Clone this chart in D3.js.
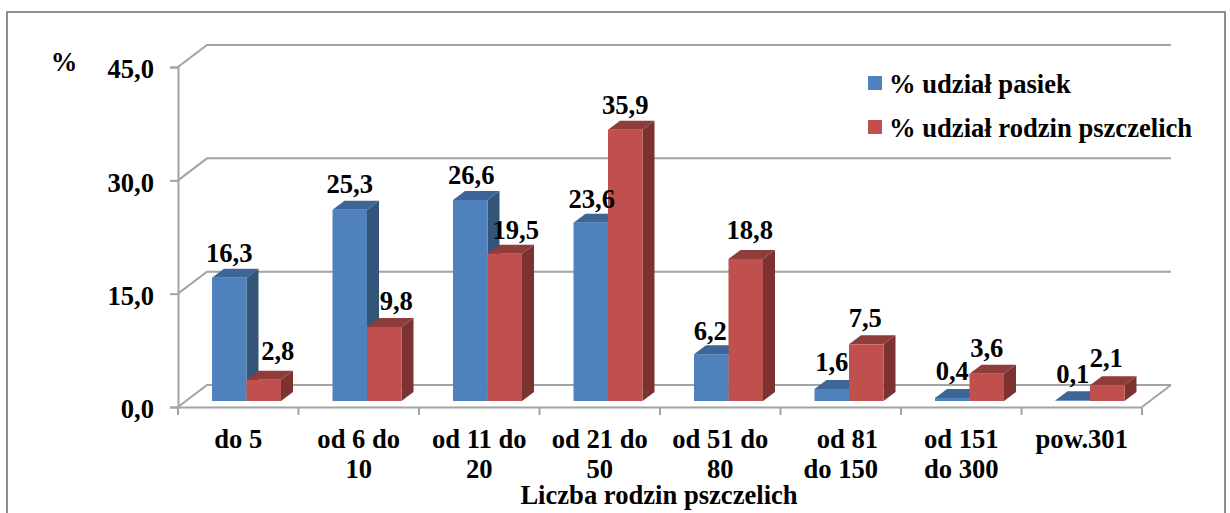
<!DOCTYPE html>
<html>
<head>
<meta charset="utf-8">
<script src="https://cdn.jsdelivr.net/npm/d3@7"></script>
<style>
  body { margin: 0; background: #fff; }
  svg { display: block; }
  text { font-family: "Liberation Serif", serif; font-weight: bold; fill: #000; }
</style>
</head>
<body>
<svg id="chart" width="1230" height="513"></svg>
<script>
const categories = [
    ["do 5"],
    ["od 6 do", "10"],
    ["od 11 do", "20"],
    ["od 21 do", "50"],
    ["od 51 do", "80"],
    ["\u00a0\u00a0od 81", "do 150"],
    ["od 151", "do 300"],
    ["pow.301"]
];
const seriesNames = ["% udział pasiek", "% udział rodzin pszczelich"];
const pasieki = [16.3, 25.3, 26.6, 23.6, 6.2, 1.6, 0.4, 0.1];
const rodziny = [2.8, 9.8, 19.5, 35.9, 18.8, 7.5, 3.6, 2.1];
const yTicks = [0, 15, 30, 45];

// hand placed data labels, same as in the original chart
const labelDx = [
    [0, 0, 1, 1, -1, 0, 0, 0],
    [14, 12, 11, 0, 4, -1, 0, -1]
];
const labelDy = [
    [16, 17, 16, 15, 14, 18, 18, 17],
    [20, 17, 15, 16, 20, 17, 17, 18]
];

const colors = [
    { front: "#4f81bd", side: "#335579", top: "#3d6696" },
    { front: "#c0504d", side: "#7c3230", top: "#8f3d3a" }
];

// 3d look of the plot
const depthX = 29, depthY = 22;
const barDepthX = 12, barDepthY = 9;
const floorLift = 6;
const gridColor = "#a3a3a3";
const fontSize = 26.6;

const svg = d3.select("#chart");
const fmt = v => v.toFixed(1).replace(".", ",");

const slot = d3.scaleBand().domain(d3.range(categories.length)).range([178, 1142]);
const inner = d3.scaleBand().domain(d3.range(seriesNames.length)).range([34, 103]);
const y = d3.scaleLinear().domain([0, 45]).range([407, 67]);

// outer frame, runs off the bottom of the picture
svg.append("rect")
    .attr("x", 7).attr("y", 12)
    .attr("width", 1218).attr("height", 520)
    .attr("fill", "#fff")
    .attr("stroke", "#8e8e8e")
    .attr("stroke-width", 2);

// grid: back wall line plus the diagonal back to the axis
const grid = svg.append("g")
    .attr("fill", "none")
    .attr("stroke", gridColor)
    .attr("stroke-width", 2);

grid.selectAll("path")
    .data(yTicks)
    .enter()
    .append("path")
    .attr("d", d => `M178,${y(d)}L${178 + depthX},${y(d) - depthY}H${1142 + depthX}`);

grid.append("path")
    .attr("d", `M1142,${y(0)}L${1142 + depthX},${y(0) - depthY}`);

// y axis
const yAxis = svg.append("g")
    .attr("transform", "translate(178,0)")
    .call(d3.axisLeft(y).tickValues(yTicks).tickFormat(fmt).tickSize(8).tickPadding(16));
yAxis.selectAll("line, path").attr("stroke", gridColor).attr("stroke-width", 2);
yAxis.selectAll("text").attr("font-size", fontSize).attr("dy", "0.41em");

// x axis, labels in the middle of a slot and ticks on the slot edges
const xAxis = svg.append("g")
    .attr("transform", `translate(0,${y(0)})`)
    .call(d3.axisBottom(slot).tickSize(0).tickFormat(""));
xAxis.select("path").attr("stroke", gridColor).attr("stroke-width", 2);
xAxis.selectAll(".tick").remove();

xAxis.selectAll("line.edge")
    .data(d3.range(categories.length + 1))
    .enter()
    .append("line")
    .attr("class", "edge")
    .attr("x1", i => slot.range()[0] + i * slot.step())
    .attr("x2", i => slot.range()[0] + i * slot.step())
    .attr("y1", 0)
    .attr("y2", 8)
    .attr("stroke", gridColor)
    .attr("stroke-width", 2);

const catLabels = svg.append("g")
    .attr("text-anchor", "middle")
    .attr("font-size", fontSize);

catLabels.selectAll("text")
    .data(categories)
    .enter()
    .append("text")
    .attr("transform", (d, i) => `translate(${slot(i) + slot.bandwidth() / 2},448)`)
    .selectAll("tspan")
    .data(d => d)
    .enter()
    .append("tspan")
    .attr("x", 0)
    .attr("y", (d, i) => i * 30)
    .text(d => d);

// bars, one group per category so red sits over the side of the blue one
const values = [pasieki, rodziny];
const rows = categories.map((c, i) => values.map((v, s) => ({ i, s, v: v[i] })));

const groups = svg.selectAll("g.cat")
    .data(rows)
    .enter()
    .append("g")
    .attr("class", "cat");

const bars = groups.selectAll("g")
    .data(d => d)
    .enter()
    .append("g")
    .attr("transform", d => `translate(${slot(d.i) + inner(d.s)},${y(d.v) - floorLift})`);

const bw = inner.bandwidth();

bars.append("path")
    .attr("fill", d => colors[d.s].side)
    .attr("d", d => {
        const h = y(0) - y(d.v);
        return `M${bw},0l${barDepthX},${-barDepthY}v${h}l${-barDepthX},${barDepthY}z`;
    });

bars.append("path")
    .attr("fill", d => colors[d.s].top)
    .attr("d", `M0,0l${barDepthX},${-barDepthY}h${bw}l${-barDepthX},${barDepthY}z`);

bars.append("rect")
    .attr("width", bw)
    .attr("height", d => y(0) - y(d.v))
    .attr("fill", d => colors[d.s].front);

// data labels on top of everything
svg.append("g")
    .attr("text-anchor", "middle")
    .attr("font-size", fontSize)
    .selectAll("text")
    .data(rows.flat())
    .enter()
    .append("text")
    .attr("x", d => slot(d.i) + inner(d.s) + bw / 2 + labelDx[d.s][d.i])
    .attr("y", d => y(d.v) - floorLift - labelDy[d.s][d.i])
    .text(d => fmt(d.v));

// legend
const legend = svg.selectAll("g.legend")
    .data(seriesNames)
    .enter()
    .append("g")
    .attr("class", "legend")
    .attr("transform", (d, i) => `translate(868,${76 + i * 44})`);

legend.append("rect")
    .attr("width", 14)
    .attr("height", 14)
    .attr("fill", (d, i) => colors[i].front);

legend.append("text")
    .attr("x", 21)
    .attr("y", 17)
    .attr("font-size", fontSize)
    .text(d => d);

// axis captions
svg.append("text")
    .attr("x", 64).attr("y", 71)
    .attr("text-anchor", "middle")
    .attr("font-size", fontSize)
    .text("%");

svg.append("text")
    .attr("x", 659).attr("y", 504)
    .attr("text-anchor", "middle")
    .attr("font-size", fontSize)
    .text("Liczba rodzin pszczelich");
</script>
</body>
</html>
